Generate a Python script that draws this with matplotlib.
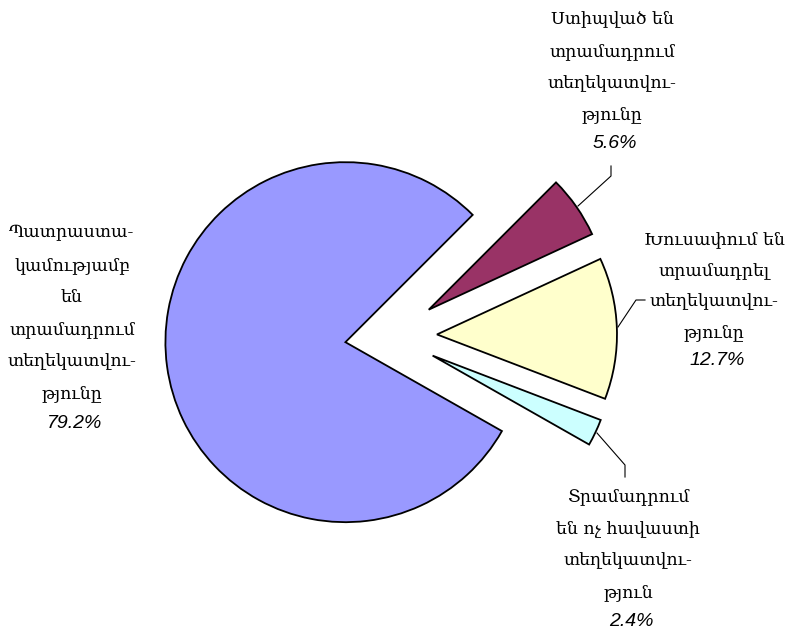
import matplotlib
matplotlib.use("Agg")
import matplotlib.pyplot as plt

# Data
categories = [
    "Պատրաստա-\nկամությամբ\nեն\nտրամադրում\nտեղեկատվու-\nթյունը",
    "Տրամադրում\nեն ոչ հավաստի\nտեղեկատվու-\nթյուն",
    "Խուսափում են\nտրամադրել\nտեղեկատվու-\nթյունը",
    "Ստիպված են\nտրամադրում\nտեղեկատվու-\nթյունը",
]
values = [79.2, 2.4, 12.7, 5.6]
colors = ["#9999FF", "#CCFFFF", "#FFFFCC", "#993366"]

W, H = 809, 637
fig = plt.figure(figsize=(W / 100, H / 100), dpi=100)
ax = fig.add_axes([0, 0, 1, 1])

def Y(y):
    return H - y

cx, cy, r = 391, Y(336), 180
ax.pie(values, colors=colors, startangle=45, counterclock=True,
       center=(cx, cy), radius=r, explode=[46] * len(values),
       wedgeprops=dict(edgecolor="black", linewidth=1.3), frame=True)
ax.set_xlim(0, W)
ax.set_ylim(0, H)
ax.axis("off")

# label layout: (center x, first-line y, line step)
layout = [(72, 233, 32.2), (628, 497, 32.0), (714, 240, 30.8), (612, 20, 31.6)]
armfont = dict(family="DejaVu Serif", fontsize=12.5)
pctfont = dict(family="Liberation Sans", style="italic", fontsize=14)
for cat, val, (lx, ly, step) in zip(categories, values, layout):
    lines = cat.split("\n")
    for i, line in enumerate(lines):
        ax.text(lx, Y(ly + i * step), line, ha="center", va="center", **armfont)
    ax.text(lx + 3, Y(ly + len(lines) * step - 3), f"{val:.1f}%", ha="center", va="center", **pctfont)

# leader lines
lk = dict(color="black", linewidth=0.8)
ax.plot([578, 611, 611], [Y(206), Y(176), Y(166)], **lk)
ax.plot([618, 636, 645], [Y(327), Y(300), Y(300)], **lk)
ax.plot([597, 625, 625], [Y(433), Y(465), Y(477)], **lk)

fig.savefig("out.png", dpi=100, facecolor="white")
